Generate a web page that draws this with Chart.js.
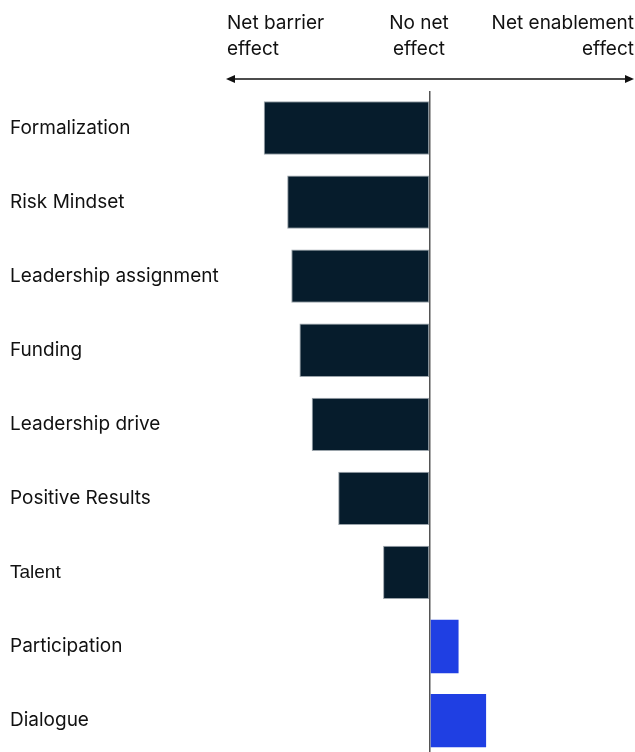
<!DOCTYPE html>
<html>
<head>
<meta charset="utf-8">
<script src="https://cdn.jsdelivr.net/npm/chart.js@4"></script>
<style>
  html, body { margin: 0; padding: 0; overflow: hidden; background: #fff; }
  #wrap { width: 635px; height: 769px; }
</style>
</head>
<body>
<div id="wrap"><canvas id="chart"></canvas></div>
<script>
const factors = ['Formalization', 'Risk Mindset', 'Leadership assignment', 'Funding', 'Leadership drive', 'Positive Results', 'Talent', 'Participation', 'Dialogue'];
const netEffect = [-81.5, -70, -68, -64, -58, -45, -23, 14, 27.5];
const axisMin = -100;
const axisMax = 100;

const DARK = '#061c2c';
const BLUE = '#1f3fe3';
const FONT = 'Inter, "Liberation Sans", sans-serif';

// header with the three effect labels and the double arrow
const headerPlugin = {
    id: 'header',
    afterDraw(chart) {
        const c = chart.ctx;
        const x = chart.scales.x;
        const left = x.left, right = x.right, mid = x.getPixelForValue(0);
        c.save();
        c.fillStyle = '#111';
        c.font = '19px ' + FONT;
        c.textBaseline = 'alphabetic';
        c.textAlign = 'left';
        c.fillText('Net barrier', left + 1, 29);
        c.fillText('effect', left + 1, 55);
        c.textAlign = 'center';
        c.fillText('No net', mid - 11, 29);
        c.fillText('effect', mid - 11, 55);
        c.textAlign = 'right';
        c.fillText('Net enablement', right, 29);
        c.fillText('effect', right, 55);

        const ay = 79;
        c.strokeStyle = '#111';
        c.lineWidth = 1.6;
        c.beginPath();
        c.moveTo(left + 6, ay);
        c.lineTo(right - 6, ay);
        c.stroke();
        c.fillStyle = '#111';
        c.beginPath();
        c.moveTo(left, ay);
        c.lineTo(left + 9, ay - 4);
        c.lineTo(left + 9, ay + 4);
        c.closePath();
        c.fill();
        c.beginPath();
        c.moveTo(right, ay);
        c.lineTo(right - 9, ay - 4);
        c.lineTo(right - 9, ay + 4);
        c.closePath();
        c.fill();
        c.restore();
    }
};

new Chart(document.getElementById('chart'), {
    type: 'bar',
    data: {
        labels: factors,
        datasets: [{
            data: netEffect,
            backgroundColor: netEffect.map(v => v < 0 ? DARK : BLUE),
            borderColor: netEffect.map(v => v < 0 ? '#9aa3aa' : BLUE),
            borderWidth: netEffect.map(v => v < 0 ? 1 : 0),
            borderSkipped: false,
            categoryPercentage: 1,
            barPercentage: 0.72
        }]
    },
    options: {
        indexAxis: 'y',
        responsive: true,
        maintainAspectRatio: false,
        animation: false,
        layout: { padding: { top: 91, left: 10, right: 1, bottom: 0 } },
        plugins: { legend: { display: false }, tooltip: { enabled: false } },
        scales: {
            x: {
                min: axisMin,
                max: axisMax,
                afterFit(axis) { axis.height = 0; },
                ticks: { display: false },
                border: { display: false },
                grid: {
                    drawTicks: false,
                    color: ctx => ctx.tick && ctx.tick.value === 0 ? '#555' : 'rgba(0,0,0,0)',
                    lineWidth: 1.5
                }
            },
            y: {
                border: { display: false },
                grid: { display: false, drawTicks: false },
                afterFit(axis) { axis.width = 216; },
                ticks: {
                    crossAlign: 'far',
                    padding: 0,
                    color: '#111',
                    font: ctx => ctx.index === 6
                        ? { family: '"Liberation Sans Narrow", "Liberation Sans", sans-serif', size: 19 }
                        : { family: FONT, size: 19 }
                }
            }
        }
    },
    plugins: [headerPlugin]
});
</script>
</body>
</html>
